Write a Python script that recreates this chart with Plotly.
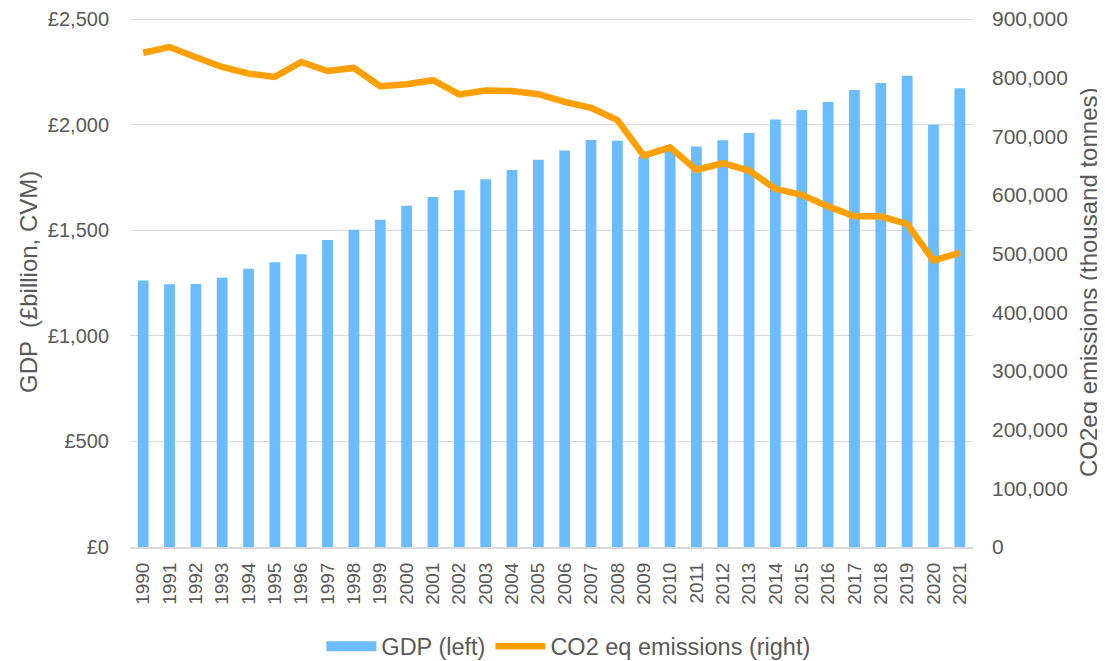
import plotly.graph_objects as go

years = [str(y) for y in range(1990, 2022)]
gdp = [1262, 1244, 1246, 1275, 1318, 1349, 1386, 1454, 1503, 1550, 1616, 1658,
       1689, 1742, 1786, 1834, 1878, 1928, 1924, 1850, 1880, 1897, 1926, 1961,
       2024, 2069, 2108, 2164, 2197, 2232, 2000, 2173]
co2 = [842700, 852400, 835000, 818400, 807100, 801500, 826900, 811600, 816700,
       785600, 789000, 795800, 771500, 778200, 777500, 772000, 759000, 748800,
       727900, 667300, 681400, 643000, 654300, 641800, 610700, 600500, 580700,
       563700, 563700, 550700, 488500, 501400]

left_ticks = [0, 500, 1000, 1500, 2000, 2500]
left_labels = ["£0", "£500", "£1,000", "£1,500", "£2,000", "£2,500"]
right_ticks = [0, 100000, 200000, 300000, 400000, 500000, 600000, 700000, 800000, 900000]
right_labels = ["0", "100,000", "200,000", "300,000", "400,000", "500,000",
                "600,000", "700,000", "800,000", "900,000"]

font = "Liberation Sans, Arial, sans-serif"
grey = "#595959"
bar_color = "#6BBCFF"
line_color = "#FF9F00"

fig = go.Figure()
fig.add_trace(go.Bar(x=years, y=gdp, name="GDP (left)", marker_color=bar_color,
                     marker_line_width=0, yaxis="y", showlegend=False))
fig.add_trace(go.Scatter(x=years, y=co2, name="CO2 eq emissions (right)", mode="lines",
                         line=dict(color=line_color, width=6.5), yaxis="y2",
                         showlegend=False))
# legend-only entries (no data) so the swatches look like the reference
fig.add_trace(go.Scatter(x=[None], y=[None], name="GDP (left)", mode="lines",
                         line=dict(color=bar_color, width=13), yaxis="y"))
fig.add_trace(go.Scatter(x=[None], y=[None], name="CO2 eq emissions (right)", mode="lines",
                         line=dict(color=line_color, width=6.5), yaxis="y2"))

W, H = 1097, 653  # page body has an 8px margin
pad = 1.004  # tiny headroom so the top gridline is drawn
fig.update_layout(
    width=W, height=H,
    margin=dict(l=122, r=132, t=9, b=114, autoexpand=False),
    plot_bgcolor="white", paper_bgcolor="white",
    bargap=0.59,
    font=dict(family=font, color=grey, size=20),
    xaxis=dict(type="category", tickangle=-90, tickfont=dict(size=19, color=grey),
               showgrid=False, showline=True, linecolor="#D9D9D9", linewidth=2,
               ticks="", automargin=False, ticklabelstandoff=6),
    yaxis=dict(range=[0, 2500 * pad], tickvals=left_ticks, ticktext=left_labels,
               showgrid=True, gridcolor="#D9D9D9", gridwidth=1.3, zeroline=False,
               tickfont=dict(size=20, color=grey), ticks="", showline=False,
               automargin=False, ticklabelstandoff=20, ticklabeloverflow="allow"),
    yaxis2=dict(range=[0, 900000 * pad], tickvals=right_ticks, ticktext=right_labels,
                overlaying="y", side="right", showgrid=False, zeroline=False,
                tickfont=dict(size=21, color=grey), ticks="", showline=False,
                automargin=False, ticklabelstandoff=18, ticklabeloverflow="allow"),
    legend=dict(orientation="h", x=0.52, xanchor="center", y=-0.146, yanchor="top",
                font=dict(size=23.5, color=grey), traceorder="normal",
                itemwidth=50),
    showlegend=True,
    annotations=[
        dict(text="GDP  (£billion, CVM)", xref="paper", yref="paper",
             x=-0.121, y=0.5, xanchor="center", yanchor="middle", textangle=-90,
             showarrow=False, font=dict(size=24, color=grey)),
        dict(text="CO2eq emissions (thousand tonnes)", xref="paper", yref="paper",
             x=1.1365, y=0.5, xanchor="center", yanchor="middle", textangle=-90,
             showarrow=False, font=dict(size=24, color=grey)),
    ],
)

fig.write_html("out.html")
